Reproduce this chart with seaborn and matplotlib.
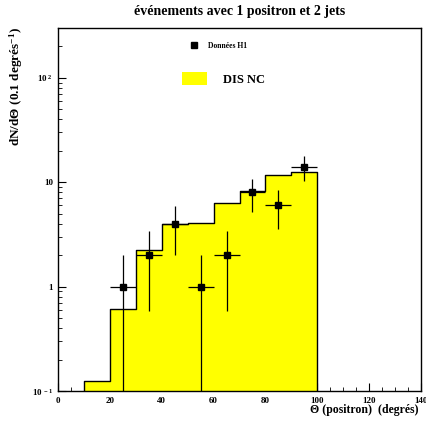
import numpy as np
import matplotlib
matplotlib.use("Agg")
import matplotlib.pyplot as plt
import matplotlib.ticker as mticker
from matplotlib.patches import Patch
from matplotlib.lines import Line2D
import seaborn as sns

# histogramme DIS NC (bins de 10 degres)
bin_edges = [10, 20, 30, 40, 50, 60, 70, 80, 90, 100]
mc_values = [0.125, 0.615, 2.23, 3.96, 4.08, 6.3, 8.15, 11.8, 12.5]

# donnees H1
data_theta = [25, 35, 45, 55, 65, 75, 85, 95]
data_values = [1, 2, 4, 1, 2, 8, 6, 14]
data_err_low = [0.9999, 1.41, 2.0, 0.9999, 1.41, 2.83, 2.45, 3.74]
data_err_high = [1.0, 1.44, 1.98, 1.0, 1.44, 2.83, 2.45, 3.74]
data_xerr = [5, 5, 5, 5, 5, 5, 5, 5]

x_ticks = [0, 20, 40, 60, 80, 100, 120, 140]

sns.set_style("ticks")
plt.rcParams["font.family"] = ["Liberation Serif", "DejaVu Serif"]
plt.rcParams["font.weight"] = "bold"
plt.rcParams["text.color"] = "black"
plt.rcParams["xtick.color"] = "black"
plt.rcParams["ytick.color"] = "black"
plt.rcParams["axes.edgecolor"] = "black"
plt.rcParams["mathtext.fontset"] = "custom"
plt.rcParams["mathtext.rm"] = "Liberation Serif:bold"
plt.rcParams["mathtext.it"] = "Liberation Serif:bold"
plt.rcParams["mathtext.bf"] = "Liberation Serif:bold"

fig = plt.figure(figsize=(4.26, 4.26), dpi=100)
ax = fig.add_axes([58 / 426, 35 / 426, 363 / 426, 363 / 426])

centers = [(a + b) / 2 for a, b in zip(bin_edges[:-1], bin_edges[1:])]
sns.histplot(x=centers, weights=mc_values, bins=bin_edges, element="step",
             fill=True, color="#ffff00", alpha=1, edgecolor="black",
             linewidth=1.0, ax=ax)
ax.set_yscale("log")

ax.errorbar(data_theta, data_values, yerr=[data_err_low, data_err_high],
            xerr=data_xerr, fmt="s", color="black", ms=5, elinewidth=0.9,
            capsize=0, zorder=5)

ax.set_xlim(0, 140)
ax.set_ylim(0.1, 300)
ax.set_xticks(x_ticks)
ax.xaxis.set_minor_locator(mticker.MultipleLocator(5))
ax.tick_params(axis="both", which="major", direction="in", length=6,
               width=0.8, labelsize=6.5, top=False, right=False,
               labelcolor="black")
ax.tick_params(axis="both", which="minor", direction="in", length=3,
               width=0.6, top=False, right=False)
ax.tick_params(axis="x", pad=4)


def ylab(v, pos):
    if abs(v - 1) < 1e-9:
        return "1"
    if abs(v - 10) < 1e-9:
        return "10"
    e = int(round(np.log10(v)))
    return "10$^{\\ %d}$" % e


ax.yaxis.set_major_formatter(mticker.FuncFormatter(ylab))
ax.yaxis.set_minor_formatter(mticker.NullFormatter())
for lab in ax.get_xticklabels() + ax.get_yticklabels():
    lab.set_fontweight("bold")
for s in ax.spines.values():
    s.set_linewidth(1.0)
    s.set_color("black")

ax.set_xlabel("")
ax.set_ylabel("")
fig.text(419 / 426, 1 - 410 / 426, "Θ (positron)  (degrés)", ha="right",
         va="center", fontsize=8.5, fontweight="bold", color="black")
fig.text(16 / 426, 1 - 27 / 426, "dN/dΘ (0.1 degrés$^{-1}$)", rotation=90,
         ha="center", va="top", fontsize=9.5, fontweight="bold",
         color="black")
fig.text(240 / 426, 1 - 12 / 426, "événements avec 1 positron et 2 jets",
         ha="center", va="center", fontsize=10, fontweight="bold",
         color="black")

h1 = Line2D([], [], marker="s", color="black", linestyle="none", ms=4.5)
leg1 = ax.legend([h1], ["Données H1"], loc="center left",
                 bbox_to_anchor=(0.335, 0.95), frameon=False,
                 prop={"size": 5.5, "weight": "bold"}, handletextpad=0.8,
                 labelcolor="black")
ax.add_artist(leg1)
h2 = Patch(facecolor="#ffff00", edgecolor="none")
ax.legend([h2], ["DIS NC"], loc="center left",
          bbox_to_anchor=(0.31, 0.86), frameon=False,
          prop={"size": 9, "weight": "bold"}, handlelength=2.0,
          handleheight=1.3, handletextpad=1.3, labelcolor="black")

fig.savefig("out.png", dpi=100)
